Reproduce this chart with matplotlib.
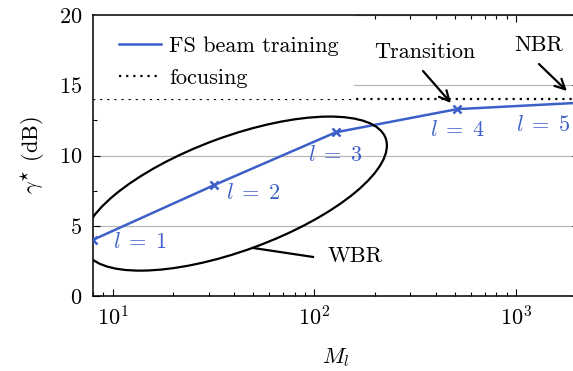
import matplotlib
matplotlib.use("Agg")
import matplotlib.pyplot as plt
import numpy as np
from matplotlib.patches import Ellipse, Rectangle
from matplotlib.lines import Line2D
from matplotlib.transforms import Affine2D
from matplotlib.ticker import MultipleLocator, LogLocator, NullFormatter

plt.rcParams['font.family'] = 'serif'
plt.rcParams['font.serif'] = ['cmr10']
plt.rcParams['mathtext.fontset'] = 'cm'
plt.rcParams['axes.formatter.use_mathtext'] = True
plt.rcParams['font.size'] = 16

# data
M_l = [8, 32, 128, 512, 2048]
gamma_fs = [4.0, 7.9, 11.65, 13.3, 13.75]
gamma_focus = 14.0
levels = [1, 2, 3, 4, 5]
label_offsets = [(20, -2), (12, -8), (0, -23), (0, -21), (-35, -22)]
label_ha = ['left', 'left', 'center', 'center', 'center']

blue = '#3c5fc8'

fig = plt.figure(figsize=(5.73, 3.71), dpi=100)
W, H = 573, 371
L, R, T, B = 93, 578.5, 15, 296
ax = fig.add_axes([L / W, (H - B) / H, (R - L) / W, (B - T) / H])

ax.set_xscale('log')

# grid and legend box
ax.yaxis.grid(True, which='major', color='#b8b8b8', lw=0.9, zorder=0)
ax.set_axisbelow(True)

ax.axhline(gamma_focus, color='black', ls=(0, (1, 2.2)), lw=1.6, zorder=1.5)
ax.plot(M_l, gamma_fs, color=blue, lw=1.8, marker='x', ms=6, mew=1.8,
        zorder=3)

ax.add_patch(Rectangle((0, (B - 99) / (B - T)), (354 - L) / (R - L), 0.3,
                       transform=ax.transAxes, facecolor='white',
                       edgecolor='none', zorder=2))

for m, g, lv, off, ha in zip(M_l, gamma_fs, levels, label_offsets, label_ha):
    ax.annotate(rf'$l\;=\;{lv}$', xy=(m, g), xytext=off,
                textcoords='offset pixels', ha=ha, va='center', color=blue,
                fontsize=16, zorder=4)

# ellipse around wide-beam region (drawn in pixel units)
pix = Affine2D().scale(1 / (R - L), -1 / (B - T)).translate(-L / (R - L), B / (B - T)) + ax.transAxes
ax.add_patch(Ellipse((235, 193.6), 321, 114, angle=-20.2, transform=pix,
                     fill=False, edgecolor='black', lw=1.6, zorder=3))

ax.plot([49.7, 98.7], [3.42, 2.78], color='black', lw=1.6, zorder=3)
ax.text(116, 2.85, 'WBR', ha='left', va='center', fontsize=16)

arrow = dict(arrowstyle='->', color='black', lw=1.6, mutation_scale=18,
             shrinkA=0, shrinkB=0)
ax.annotate('', xy=(477, 13.74), xytext=(347, 16.01), arrowprops=arrow)
ax.text(352, 17.37, 'Transition', ha='center', va='center', fontsize=16)
ax.annotate('', xy=(1795, 14.59), xytext=(1304, 16.51), arrowprops=arrow,
            annotation_clip=False)
ax.text(1304, 17.86, 'NBR', ha='center', va='center', fontsize=16)

ax.set_xlim(8, 2048)
ax.set_ylim(0, 20)
ax.yaxis.set_major_locator(MultipleLocator(5))
ax.yaxis.set_minor_locator(MultipleLocator(2.5))
ax.xaxis.set_major_locator(LogLocator(base=10))
ax.xaxis.set_minor_locator(LogLocator(base=10, subs=np.arange(2, 10)))
ax.xaxis.set_minor_formatter(NullFormatter())
ax.tick_params(which='both', direction='in', top=True, right=True,
               width=0.8, colors='black')
ax.tick_params(which='major', length=5)
ax.tick_params(which='minor', length=3)
ax.tick_params(axis='y', pad=8)
ax.tick_params(axis='x', pad=7)
for s in ax.spines.values():
    s.set_linewidth(1.1)

ax.set_xlabel('$M_l$', fontsize=16, labelpad=12)
ax.set_ylabel(r'$\gamma^{\star}$ (dB)', fontsize=16, labelpad=8)

handles = [Line2D([], [], color=blue, lw=1.8),
           Line2D([], [], color='black', ls=(0, (1, 2.2)), lw=1.6)]
ax.legend(handles, ['FS beam training', 'focusing'], loc='upper left',
          bbox_to_anchor=(0.035, 0.955), frameon=False,
          handlelength=1.9, handletextpad=0.35, labelspacing=0.55,
          borderaxespad=0, fontsize=16)

fig.savefig('out.png', dpi=100)
